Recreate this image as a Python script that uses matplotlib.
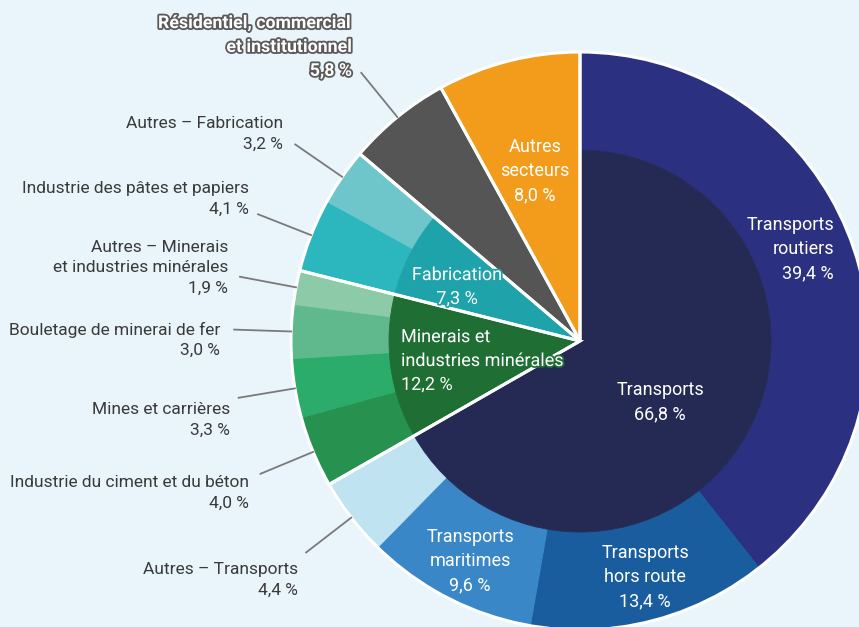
import matplotlib.pyplot as plt
import matplotlib.patheffects as pe
import numpy as np

# Secteurs (anneau interieur)
groupes = ["Transports", "Minerais et\nindustries minérales", "Fabrication",
           "Résidentiel, commercial\net institutionnel", "Autres\nsecteurs"]
groupes_val = [66.8, 12.2, 7.3, 5.8, 8.0]

# Sous-secteurs (anneau exterieur)
sous = ["Transports\nroutiers", "Transports\nhors route", "Transports\nmaritimes",
        "Autres – Transports",
        "Industrie du ciment et du béton", "Mines et carrières",
        "Bouletage de minerai de fer", "Autres – Minerais\net industries minérales",
        "Industrie des pâtes et papiers", "Autres – Fabrication"]
sous_val = [39.4, 13.4, 9.6, 4.4, 4.0, 3.3, 3.0, 1.9, 4.1, 3.2]

col_groupes = ["#252a55", "#1f6e33", "#1fa3aa", "#555555", "#f39c1b"]
col_sous = ["#2b3081", "#1a5d9f", "#3a87c8", "#bfe3f0",
            "#27914f", "#2cac6a", "#5fb98c", "#8dcaa7",
            "#2cb7be", "#6ec6cb"]

# anneau exterieur : sous-secteurs + les deux secteurs sans detail
ext_val = sous_val + groupes_val[3:]
ext_col = col_sous + col_groupes[3:]


def fmt(v):
    return f"{v:.1f}".replace(".", ",") + " %"


FONT = ["Roboto", "DejaVu Sans"]
BG = "#e9f4fb"
cx, cy = 580, 341
R, RIN = 289, 191

fig = plt.figure(figsize=(8.59, 6.27), dpi=100, facecolor=BG)
ax = fig.add_axes([0, 0, 1, 1])
ax.set_facecolor(BG)

w_ext, _ = ax.pie(ext_val, radius=R, center=(cx, cy), colors=ext_col,
                  startangle=-90, counterclock=True,
                  wedgeprops=dict(width=R - RIN, linewidth=0.6))
w_int, _ = ax.pie(groupes_val, radius=RIN, center=(cx, cy), colors=col_groupes,
                  startangle=-90, counterclock=True,
                  wedgeprops=dict(linewidth=0.6))
for w in list(w_ext) + list(w_int):
    w.set_edgecolor(w.get_facecolor())
# contours blancs des secteurs
ax.pie(groupes_val, radius=R, center=(cx, cy), colors=["none"] * 5,
       startangle=-90, counterclock=True,
       wedgeprops=dict(linewidth=2.2, edgecolor="white"))

ax.set_xlim(0, 859)
ax.set_ylim(627, 0)
ax.set_aspect("auto")
ax.axis("off")

# angles milieu des segments exterieurs
tot = sum(ext_val)
cum = np.cumsum([0] + ext_val)
mid = (cum[:-1] + np.array(ext_val) / 2) / tot * 360 - 90

# etiquettes exterieures (a gauche) avec traits de rappel
pos_lab = {3: (298, 580), 4: (249, 493), 5: (230, 420), 6: (220, 340),
           7: (228, 268), 8: (249, 199), 9: (283, 134), 10: (352, 47)}
for i, (tx, ty) in pos_lab.items():
    a = np.deg2rad(mid[i])
    ax.plot([cx + R * np.cos(a), cx + 346 * np.cos(a)],
            [cy + R * np.sin(a), cy + 346 * np.sin(a)],
            color="#7a7a7a", lw=1.3)
    if i < len(sous):
        nom, txt_col, eff, wt, fs = sous[i], "#3a3a3a", None, "normal", 12.5
    else:
        nom, txt_col, wt, fs = groupes[3], "white", "bold", 12.8
        eff = [pe.withStroke(linewidth=2.6, foreground="#5a5a5a")]
    ax.text(tx, ty, nom + "\n" + fmt(ext_val[i]), ha="right", va="center",
            multialignment="right", fontsize=fs, color=txt_col,
            fontweight=wt, family=FONT, linespacing=1.42, path_effects=eff)

# etiquettes interieures
kw = dict(color="white", fontsize=13, family=FONT, linespacing=1.42, va="center")
ax.text(660, 402, groupes[0] + "\n" + fmt(groupes_val[0]), ha="center", **kw)
ax.text(401, 361, groupes[1] + "\n" + fmt(groupes_val[1]), ha="left",
        multialignment="left",
        path_effects=[pe.withStroke(linewidth=2.5, foreground=col_groupes[1])], **kw)
ax.text(457, 287, groupes[2] + "\n" + fmt(groupes_val[2]), ha="center",
        path_effects=[pe.withStroke(linewidth=2.5, foreground=col_groupes[2])], **kw)
ax.text(535, 171, groupes[4] + "\n" + fmt(groupes_val[4]), ha="center", **kw)
ax.text(834, 249, sous[0] + "\n" + fmt(sous_val[0]), ha="right",
        multialignment="right", **kw)
ax.text(645, 577, sous[1] + "\n" + fmt(sous_val[1]), ha="center", **kw)
ax.text(470, 561, sous[2] + "\n" + fmt(sous_val[2]), ha="center", **kw)

fig.savefig("out.png", dpi=100, facecolor=BG)
